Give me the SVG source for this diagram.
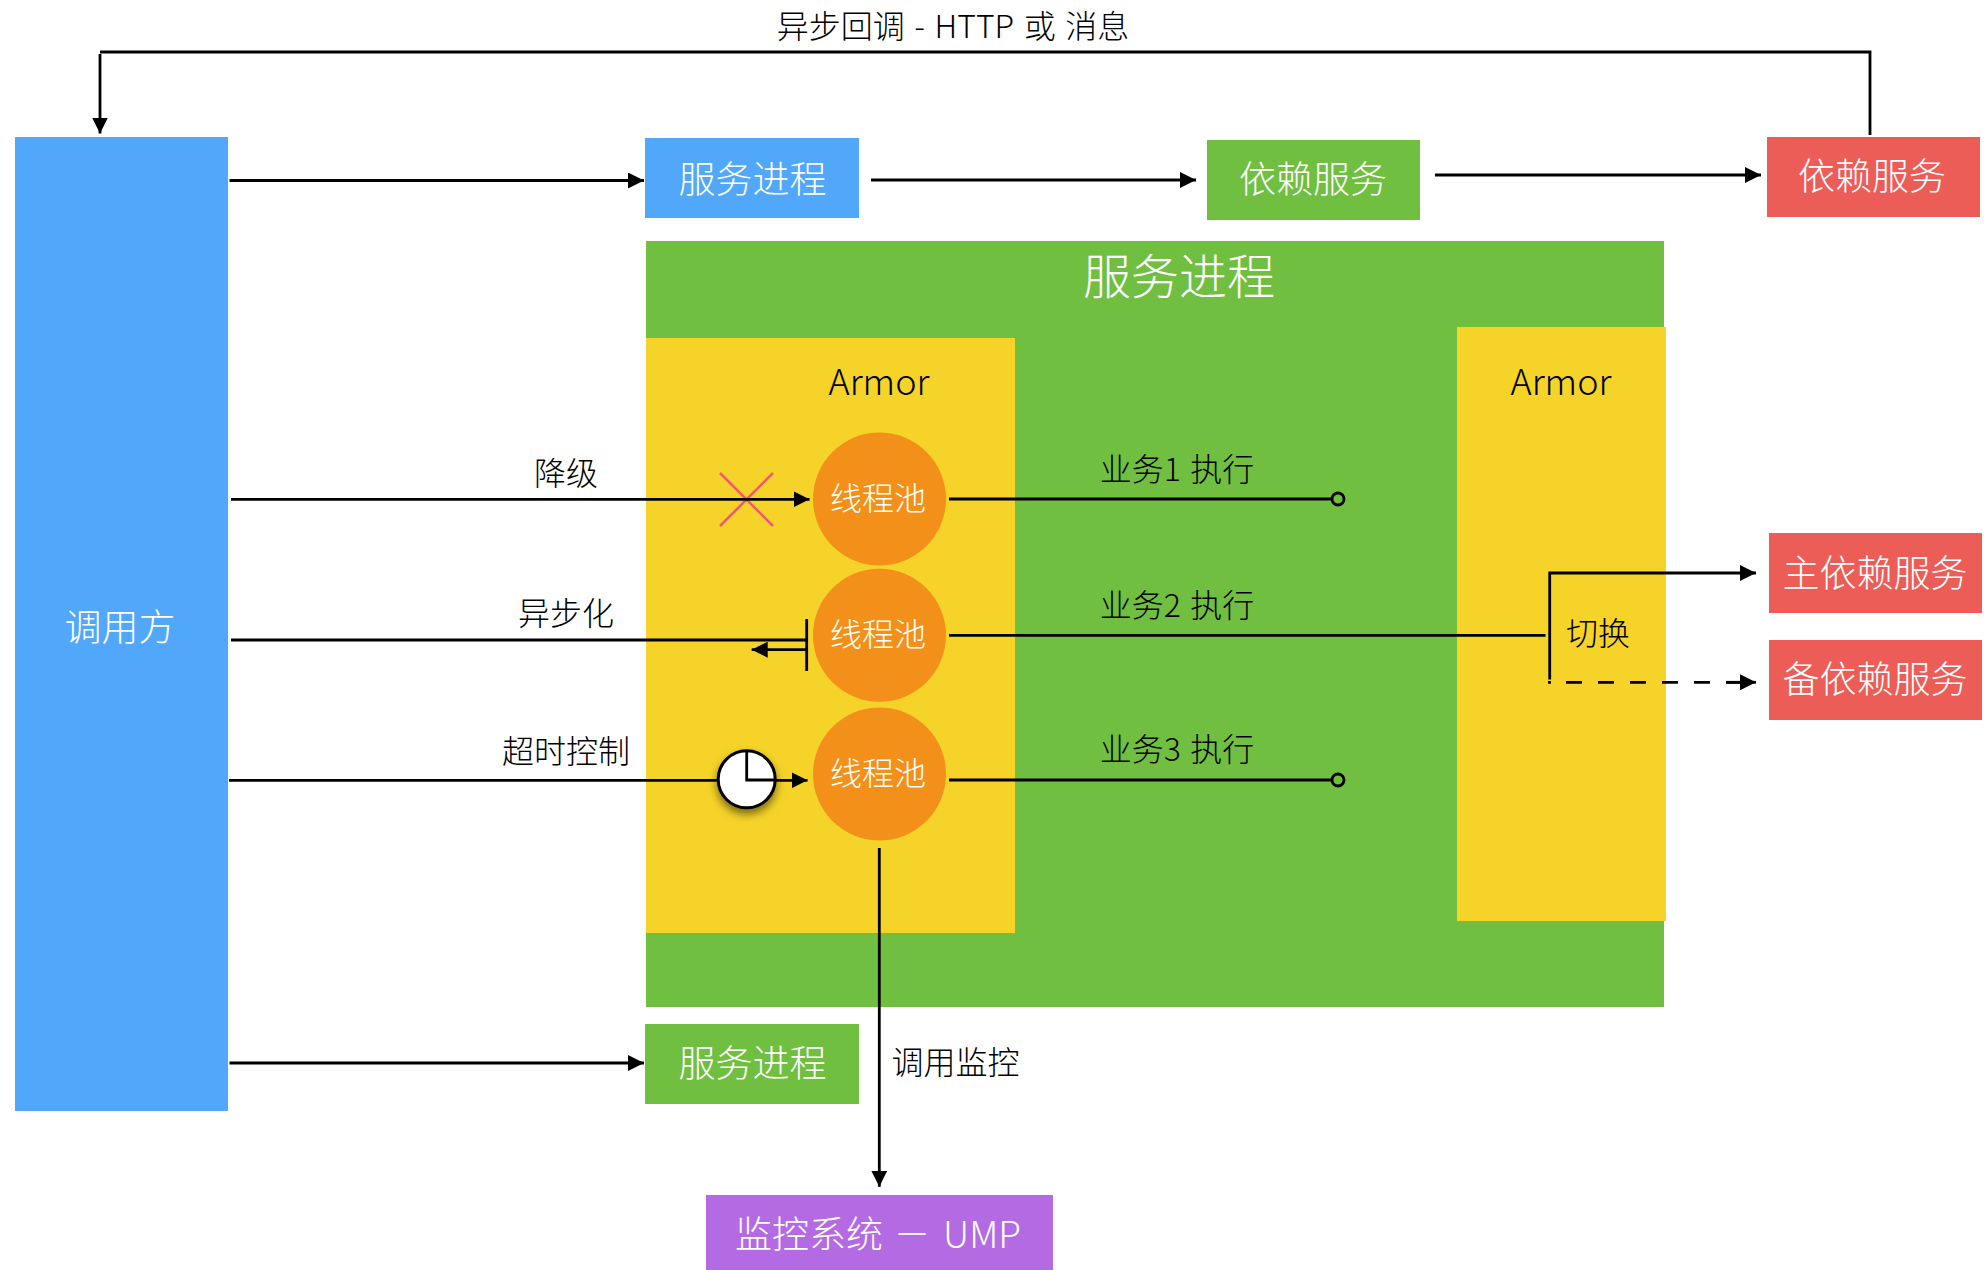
<svg xmlns="http://www.w3.org/2000/svg" width="1987" height="1270" viewBox="0 0 1987 1270">
<defs>
<marker id="a" markerUnits="userSpaceOnUse" markerWidth="17" markerHeight="16" refX="16" refY="8" orient="auto"><path d="M0 0L16 8L0 16Z" fill="#000"/></marker>
<filter id="s" x="-30%" y="-30%" width="160%" height="170%"><feDropShadow dx="0" dy="5" stdDeviation="4" flood-color="#000" flood-opacity="0.5"/></filter>
</defs>
<style>
text{font-family:"Noto Sans CJK SC","Noto Sans",sans-serif;text-anchor:middle;font-weight:300}
.w{fill:#fff;font-size:37px}
.k{fill:#000;font-size:32px}
.c{fill:#fff;font-size:32px}
.sp{word-spacing:2.5px}
.l{fill:none;stroke:#000;stroke-width:2.8}
.ar{marker-end:url(#a)}
.o{fill:#f39019}
</style>
<rect width="1987" height="1270" fill="#fff"/>
<g id="caller"><rect x="15" y="137" width="213" height="974" fill="#51a7f9"/><text class="w" x="120" y="641">调用方</text></g>
<g id="proc-top"><rect x="645" y="138" width="214" height="80" fill="#51a7f9"/><text class="w" x="752.5" y="193">服务进程</text></g>
<g id="dep-green"><rect x="1207" y="140" width="213" height="80" fill="#70bf41"/><text class="w" x="1313" y="193">依赖服务</text></g>
<g id="dep-red"><rect x="1767" y="137" width="213" height="80" fill="#ec5d57"/><text class="w" x="1872" y="190">依赖服务</text></g>
<g id="proc-main"><rect x="646" y="241" width="1018" height="766" fill="#70bf41"/><text class="w" style="font-size:48px" x="1179" y="294">服务进程</text></g>
<g id="armor-left"><rect x="646" y="338" width="369" height="595" fill="#f5d328"/><text class="k" style="font-size:36px" x="879" y="395">Armor</text></g>
<g id="armor-right"><rect x="1457" y="327" width="209" height="594" fill="#f5d328"/><text class="k" style="font-size:36px" x="1561" y="395">Armor</text></g>
<g id="pool1"><circle class="o" cx="879.5" cy="499" r="66.5"/><text class="c" x="878" y="510">线程池</text></g>
<g id="pool2"><circle class="o" cx="879.5" cy="635.3" r="66.5"/><text class="c" x="878" y="646">线程池</text></g>
<g id="pool3"><circle class="o" cx="879.5" cy="774" r="66.5"/><text class="c" x="878" y="785">线程池</text></g>
<g id="dep-main"><rect x="1769" y="533" width="213" height="80" fill="#ec5d57"/><text class="w" x="1875" y="587">主依赖服务</text></g>
<g id="dep-backup"><rect x="1769" y="640" width="213" height="80" fill="#ec5d57"/><text class="w" x="1875" y="693">备依赖服务</text></g>
<g id="proc-bottom"><rect x="645" y="1024" width="214" height="80" fill="#70bf41"/><text class="w" x="752.5" y="1077">服务进程</text></g>
<g id="ump"><rect x="706" y="1195" width="347" height="75" fill="#b36ae2"/><text class="w" y="1248"><tspan x="809">监控系统</tspan><tspan x="912">－</tspan><tspan x="982">UMP</tspan></text></g>
<g id="connectors">
<path class="l" d="M1870 135V52H100"/><path class="l ar" d="M100 54V133.5"/>
<path class="l ar" d="M229.5 180.5H644"/><path class="l ar" d="M871 180H1196"/><path class="l ar" d="M1435 175H1761"/>
<path d="M720 473L773 526M773 473L720 526" stroke="#ec5d6c" stroke-width="2.5" fill="none"/>
<path class="l ar" d="M231 499.3H809.5"/>
<path class="l" d="M231 640H808M806.7 619V671"/><path class="l ar" d="M806 649.7H751.7"/>
<path class="l ar" d="M229 780.3H807.5"/>
<path class="l" d="M949 499H1332"/><circle cx="1338" cy="499" r="6" fill="none" stroke="#000" stroke-width="2.8"/>
<path class="l" d="M949 635.3H1545.5"/>
<path class="l" d="M949 780H1332"/><circle cx="1338" cy="780" r="6" fill="none" stroke="#000" stroke-width="2.8"/>
<path class="l ar" d="M1549.7 679.5V573H1756"/>
<path class="l" d="M1548 682.3H1551M1566 682.3H1740" stroke-dasharray="16 16"/>
<path class="l ar" d="M1726 682.3H1756"/>
<path class="l ar" d="M229.5 1063H644"/>
<path class="l ar" d="M879.3 848V1186.7"/>
<g filter="url(#s)"><circle cx="746.7" cy="779.3" r="28.5" fill="#fff" stroke="#000" stroke-width="3"/></g>
<path class="l" d="M746.7 751V780H775"/>
</g>
<g id="labels">
<text class="k sp" x="953" y="38">异步回调 - HTTP 或 消息</text>
<text class="k" x="566" y="485">降级</text>
<text class="k" x="566" y="625">异步化</text>
<text class="k" x="566" y="763">超时控制</text>
<text class="k sp" x="1177" y="481">业务1 执行</text>
<text class="k sp" x="1177" y="617">业务2 执行</text>
<text class="k sp" x="1177" y="761">业务3 执行</text>
<text class="k" x="1598" y="645">切换</text>
<text class="k" x="955.5" y="1074">调用监控</text>
</g>
</svg>
